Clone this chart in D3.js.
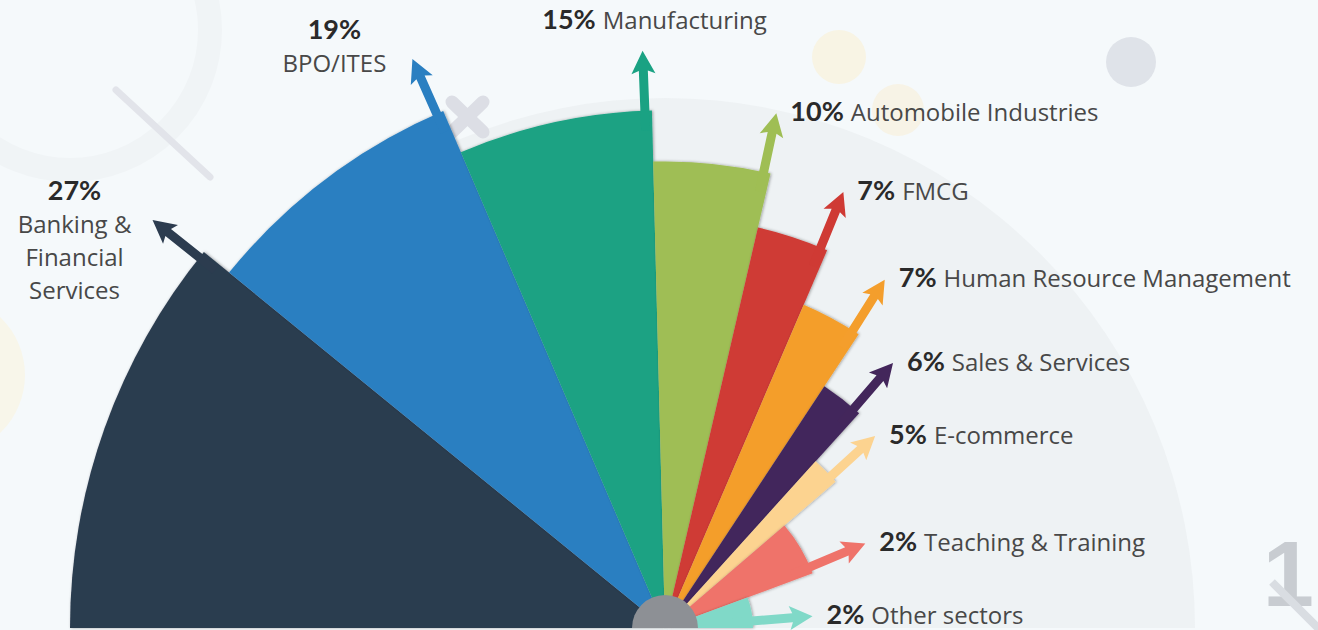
<!DOCTYPE html>
<html>
<head>
<meta charset="utf-8">
<script src="https://cdn.jsdelivr.net/npm/d3@7"></script>
<style>
  html, body { margin: 0; padding: 0; background: #f4f8fa; overflow: hidden; }
  #app { width: 1318px; height: 630px; }
</style>
</head>
<body>
<div id="app"></div>
<script>
// sector shares of placements, read from the infographic
var sectors = ["Banking & Financial Services", "BPO/ITES", "Manufacturing", "Automobile Industries", "FMCG",
               "Human Resource Management", "Sales & Services", "E-commerce", "Teaching & Training", "Other sectors"];
var shares = [27, 19, 15, 10, 7, 7, 6, 5, 2, 2];
var palette = ["#2c3c4f", "#2a7fc1", "#1aa283", "#9fbe54", "#cf3a34", "#f49e2c", "#43265b", "#fcd390", "#ef736a", "#80d9c8"];

var width = 1318;
var height = 630;
var cx = 665, cy = 628;

// tiny sectors get a wider slice so their arrow and label stay readable
var smallCut = 3, smallWeight = 14;
var arrowOut = 60;

var svg = d3.select("#app").append("svg")
            .attr("width", width)
            .attr("height", height);

var defs = svg.append("defs");
defs.append("filter").attr("id", "shade")
    .attr("x", "-10%").attr("y", "-10%").attr("width", "120%").attr("height", "120%")
    .append("feDropShadow")
    .attr("dx", 1).attr("dy", 0).attr("stdDeviation", 1.6)
    .attr("flood-color", "#000").attr("flood-opacity", 0.35);

var glow = defs.append("radialGradient").attr("id", "disc")
               .attr("gradientUnits", "userSpaceOnUse")
               .attr("cx", cx).attr("cy", cy).attr("r", 540);
glow.append("stop").attr("offset", "0.8").attr("stop-color", "#e9edf0");
glow.append("stop").attr("offset", "1").attr("stop-color", "#eef2f4");

// background decoration
var deco = svg.append("g");
deco.append("rect").attr("width", width).attr("height", height).attr("fill", "#f5f9fb");
deco.append("circle").attr("cx", 70).attr("cy", 30).attr("r", 140)
    .attr("fill", "none").attr("stroke", "#f0f4f6").attr("stroke-width", 24);
deco.append("circle").attr("cx", -55).attr("cy", 375).attr("r", 80).attr("fill", "#f8f6ea");
deco.append("path")
    .attr("d", d3.arc()({innerRadius: 0, outerRadius: 530, startAngle: -Math.PI / 2, endAngle: Math.PI / 2}))
    .attr("transform", "translate(" + cx + "," + cy + ")")
    .attr("fill", "url(#disc)");
deco.append("line").attr("x1", 116).attr("y1", 90).attr("x2", 210).attr("y2", 177)
    .attr("stroke", "#e2e4ea").attr("stroke-width", 7).attr("stroke-linecap", "round");
deco.append("line").attr("x1", 452).attr("y1", 102).attr("x2", 483).attr("y2", 132)
    .attr("stroke", "#dcdee5").attr("stroke-width", 13).attr("stroke-linecap", "round");
deco.append("line").attr("x1", 483).attr("y1", 102).attr("x2", 452).attr("y2", 132)
    .attr("stroke", "#dcdee5").attr("stroke-width", 13).attr("stroke-linecap", "round");
deco.append("circle").attr("cx", 839).attr("cy", 57).attr("r", 27).attr("fill", "#f8f4e4");
deco.append("circle").attr("cx", 898).attr("cy", 110).attr("r", 26).attr("fill", "#f7f3e6");
deco.append("circle").attr("cx", 1131).attr("cy", 62).attr("r", 25).attr("fill", "#dfe3e9");
deco.append("text").attr("x", 1314).attr("y", 606)
    .attr("text-anchor", "end")
    .attr("font-family", "Liberation Sans, Arial, sans-serif").attr("font-weight", "bold")
    .attr("font-size", 92).attr("fill", "#c8ccd1")
    .text("1");
deco.append("line").attr("x1", 1272).attr("y1", 582).attr("x2", 1330).attr("y2", 640)
    .attr("stroke", "#d9dde2").attr("stroke-width", 8);

var data = sectors.map(function(name, i) {
    return {name: name, share: shares[i], color: palette[i], rank: i};
});

var pie = d3.pie()
            .sort(null)
            .value(function(d) { return d.share < smallCut ? smallWeight : d.share; })
            .startAngle(-Math.PI / 2)
            .endAngle(Math.PI / 2);

var radius = d3.scalePow().exponent(1.25)
               .domain([0, sectors.length - 1])
               .range([595, 88]);

var arcs = pie(data);
arcs.forEach(function(a) {
    a.r = radius(a.data.rank);
    a.dir = a.endAngle - 7 / a.r;              // arrow runs along the clockwise edge
    a.tipX = cx + (a.r + arrowOut) * Math.sin(a.dir);
    a.tipY = cy - (a.r + arrowOut) * Math.cos(a.dir);
});

var arc = d3.arc()
            .innerRadius(0)
            .outerRadius(function(d) { return d.r; });

var fan = svg.append("g")
             .attr("transform", "translate(" + cx + "," + cy + ")");

fan.selectAll("path.wedge")
    .data(arcs)
    .enter().append("path")
    .attr("class", "wedge")
    .attr("d", arc)
    .attr("fill", function(d) { return d.data.color; })
    .attr("filter", "url(#shade)");

// arrows drawn pointing up, then turned to the edge angle
function arrowPath(len) {
    var w = 4.5, h = 12, hl = 20;
    return "M" + (-w) + ",0L" + (-w) + "," + (-len + hl) + "L" + (-h) + "," + (-len + hl + 3) +
           "L0," + (-len) + "L" + h + "," + (-len + hl + 3) + "L" + w + "," + (-len + hl) + "L" + w + ",0Z";
}

svg.selectAll("path.arrow")
    .data(arcs)
    .enter().append("path")
    .attr("class", "arrow")
    .attr("d", arrowPath(arrowOut + 20))
    .attr("fill", function(d) { return d.data.color; })
    .attr("transform", function(d) {
        var bx = cx + (d.r - 20) * Math.sin(d.dir);
        var by = cy - (d.r - 20) * Math.cos(d.dir);
        return "translate(" + bx + "," + by + ") rotate(" + (d.dir * 180 / Math.PI) + ")";
    });

svg.append("path")
    .attr("d", d3.arc()({innerRadius: 0, outerRadius: 33, startAngle: -Math.PI / 2, endAngle: Math.PI / 2}))
    .attr("transform", "translate(" + cx + "," + cy + ")")
    .attr("fill", "#8d9095");

// labels
function wrap(text, maxChars) {
    var lines = [], line = "";
    text.split(" ").forEach(function(w) {
        if (line && (line + " " + w).length > maxChars) { lines.push(line); line = w; }
        else { line = line ? line + " " + w : w; }
    });
    lines.push(line);
    return lines;
}

var pctFont = "Lato, 'Open Sans', sans-serif";
var nameFont = "'Open Sans', 'Noto Sans', sans-serif";
var pctSize = 27, nameSize = 24;

var labels = svg.append("g");
arcs.forEach(function(d) {
    var pct = d.data.share + "%";
    if (d.dir < -0.3) {
        var x = d.tipX - 78, y = d.tipY - 20;
        var t = labels.append("text").attr("text-anchor", "middle");
        t.append("tspan").attr("x", x).attr("y", y)
         .attr("font-family", pctFont).attr("font-weight", "bold").attr("font-size", pctSize).attr("fill", "#2a2a2a")
         .text(pct);
        wrap(d.data.name, 10).forEach(function(l, k) {
            t.append("tspan").attr("x", x).attr("y", y + 33 * (k + 1))
             .attr("font-family", nameFont).attr("font-size", nameSize).attr("fill", "#484848")
             .text(l);
        });
    } else {
        var t2 = labels.append("text");
        if (d.dir < 0.15) {
            t2.attr("text-anchor", "middle").attr("x", d.tipX + 12).attr("y", d.tipY - 22);
        } else {
            t2.attr("x", d.tipX + 14).attr("y", d.tipY + 2).attr("dy", "0.35em");
        }
        t2.append("tspan")
          .attr("font-family", pctFont).attr("font-weight", "bold").attr("font-size", pctSize).attr("fill", "#2a2a2a")
          .text(pct);
        t2.append("tspan").attr("dx", 7)
          .attr("font-family", nameFont).attr("font-size", nameSize).attr("fill", "#484848")
          .text(d.data.name);
    }
});
</script>
</body>
</html>
